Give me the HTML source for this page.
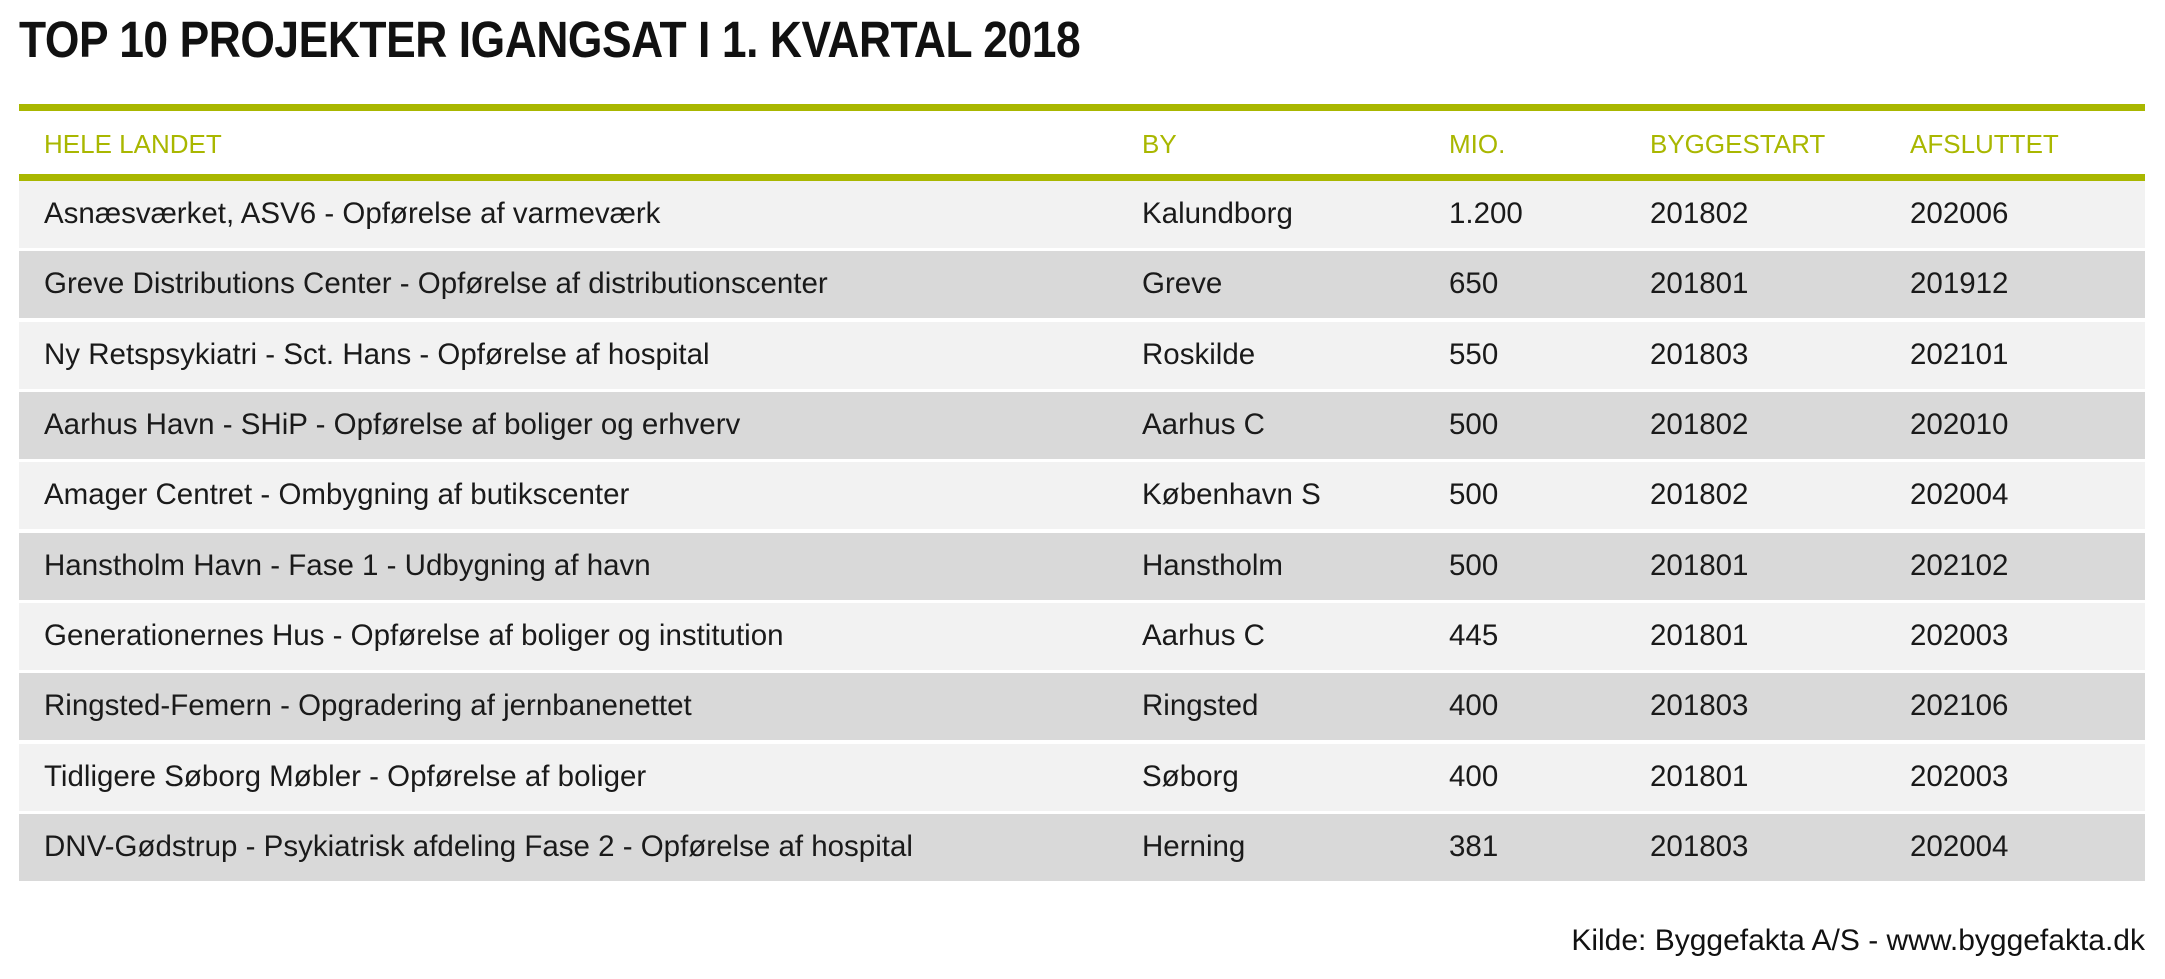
<!DOCTYPE html>
<html><head><meta charset="utf-8"><style>
body{margin:0;width:2165px;height:979px;background:#fff;position:relative;overflow:hidden;font-family:"Liberation Sans",sans-serif;}
.t{position:absolute;left:19px;top:10px;font-size:51px;font-weight:bold;color:#111;white-space:nowrap;transform:scaleX(0.87);transform-origin:left top;letter-spacing:-0.5px}
.g{position:absolute;left:19px;width:2126px;height:7px;background:#a9b700}
.h{position:absolute;top:129px;font-size:26px;color:#a9b700;white-space:nowrap}
.r{position:absolute;left:19px;width:2126px;height:67px}
.r span{position:absolute;top:16px;font-size:29.5px;color:#1a1a1a;white-space:nowrap}
.s{position:absolute;right:20px;top:924px;font-size:30px;color:#111;white-space:nowrap}
</style></head><body>
<div class="t">TOP 10 PROJEKTER IGANGSAT I 1. KVARTAL 2018</div>
<div class="g" style="top:104px"></div>
<div class="h" style="left:44px">HELE LANDET</div>
<div class="h" style="left:1142px">BY</div>
<div class="h" style="left:1449px">MIO.</div>
<div class="h" style="left:1650px">BYGGESTART</div>
<div class="h" style="left:1910px">AFSLUTTET</div>
<div class="g" style="top:174px"></div>
<div class="r" style="top:181px;background:#f2f2f2"><span style="left:25px">Asnæsværket, ASV6 - Opførelse af varmeværk</span><span style="left:1123px">Kalundborg</span><span style="left:1430px">1.200</span><span style="left:1631px">201802</span><span style="left:1891px">202006</span></div>
<div class="r" style="top:251px;background:#d9d9d9"><span style="left:25px">Greve Distributions Center - Opførelse af distributionscenter</span><span style="left:1123px">Greve</span><span style="left:1430px">650</span><span style="left:1631px">201801</span><span style="left:1891px">201912</span></div>
<div class="r" style="top:322px;background:#f2f2f2"><span style="left:25px">Ny Retspsykiatri - Sct. Hans - Opførelse af hospital</span><span style="left:1123px">Roskilde</span><span style="left:1430px">550</span><span style="left:1631px">201803</span><span style="left:1891px">202101</span></div>
<div class="r" style="top:392px;background:#d9d9d9"><span style="left:25px">Aarhus Havn - SHiP - Opførelse af boliger og erhverv</span><span style="left:1123px">Aarhus C</span><span style="left:1430px">500</span><span style="left:1631px">201802</span><span style="left:1891px">202010</span></div>
<div class="r" style="top:462px;background:#f2f2f2"><span style="left:25px">Amager Centret - Ombygning af butikscenter</span><span style="left:1123px">København S</span><span style="left:1430px">500</span><span style="left:1631px">201802</span><span style="left:1891px">202004</span></div>
<div class="r" style="top:533px;background:#d9d9d9"><span style="left:25px">Hanstholm Havn - Fase 1 - Udbygning af havn</span><span style="left:1123px">Hanstholm</span><span style="left:1430px">500</span><span style="left:1631px">201801</span><span style="left:1891px">202102</span></div>
<div class="r" style="top:603px;background:#f2f2f2"><span style="left:25px">Generationernes Hus - Opførelse af boliger og institution</span><span style="left:1123px">Aarhus C</span><span style="left:1430px">445</span><span style="left:1631px">201801</span><span style="left:1891px">202003</span></div>
<div class="r" style="top:673px;background:#d9d9d9"><span style="left:25px">Ringsted-Femern - Opgradering af jernbanenettet</span><span style="left:1123px">Ringsted</span><span style="left:1430px">400</span><span style="left:1631px">201803</span><span style="left:1891px">202106</span></div>
<div class="r" style="top:744px;background:#f2f2f2"><span style="left:25px">Tidligere Søborg Møbler - Opførelse af boliger</span><span style="left:1123px">Søborg</span><span style="left:1430px">400</span><span style="left:1631px">201801</span><span style="left:1891px">202003</span></div>
<div class="r" style="top:814px;background:#d9d9d9"><span style="left:25px">DNV-Gødstrup - Psykiatrisk afdeling Fase 2 - Opførelse af hospital</span><span style="left:1123px">Herning</span><span style="left:1430px">381</span><span style="left:1631px">201803</span><span style="left:1891px">202004</span></div>
<div class="s">Kilde: Byggefakta A/S - www.byggefakta.dk</div>
</body></html>
